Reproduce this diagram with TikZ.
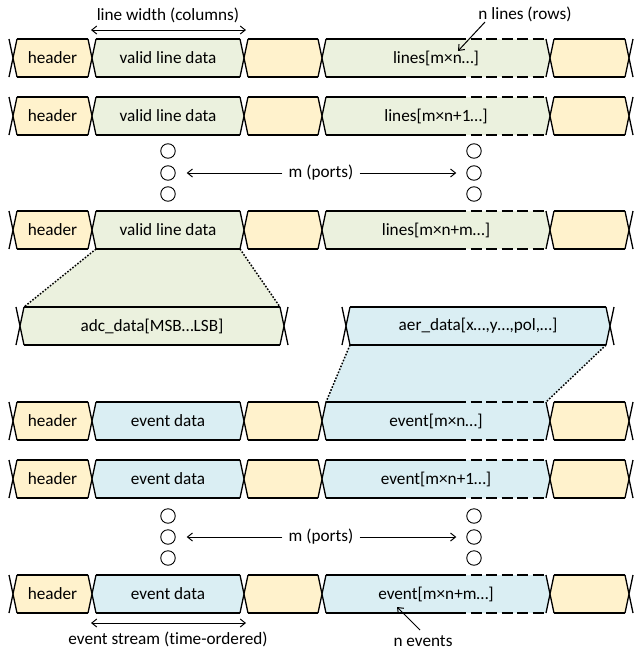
\documentclass[tikz,border=0pt]{standalone}
\usepackage{fontspec}
\setmainfont[Ligatures=NoCommon]{Carlito}
\usetikzlibrary{arrows.meta}
\definecolor{hdrfill}{HTML}{FFF2CC}
\definecolor{linefill}{HTML}{EBF1DE}
\definecolor{evtfill}{HTML}{DAEEF3}
\tikzset{
  lbl/.style={font=\fontsize{17.2}{20}\selectfont,inner sep=0pt},
  busline/.style={line width=1.3pt},
  portdot/.style={circle,draw,line width=0.9pt,minimum size=14.5pt,inner sep=0pt},
  dimarrow/.style={line width=1pt,{Straight Barb[length=5pt,width=8pt]}-{Straight Barb[length=5pt,width=8pt]}},
  ptr/.style={line width=1pt,-{Straight Barb[length=5pt,width=8pt]}},
  zoomline/.style={line width=1.5pt,dash pattern=on 1.6pt off 1.6pt}
}
\newcommand{\busseg}[4]{%
  \fill[#4] (#1,#3) -- (#1+4,#3-19) -- (#2-4,#3-19) -- (#2,#3) -- (#2-4,#3+19) -- (#1+4,#3+19) -- cycle;}

\begin{document}
\begin{tikzpicture}[x=1pt,y=-1pt]
\useasboundingbox (0,0) rectangle (637,651);

\fill[linefill] (96,249) -- (240,249) -- (280,307) -- (24,307) -- cycle;
\draw[zoomline] (96,249) -- (24,307) (240,249) -- (280,307);
\fill[evtfill] (350,345) -- (606,345) -- (546,402) -- (326,402) -- cycle;
\draw[zoomline] (350,345) -- (326,402) (606,345) -- (546,402);

\foreach \y/\c/\mtxt/\stxt/\id in {58/linefill/valid line data/{lines[m×n…]}/a1,
    116/linefill/valid line data/{lines[m×n+1…]}/a2,
    230/linefill/valid line data/{lines[m×n+m…]}/a3,
    421/evtfill/event data/{event[m×n…]}/b1,
    479/evtfill/event data/{event[m×n+1…]}/b2,
    594/evtfill/event data/{event[m×n+m…]}/b3}{
  \busseg{13}{92}{\y}{hdrfill}
  \busseg{92}{244}{\y}{\c}
  \busseg{244}{322}{\y}{hdrfill}
  \busseg{322}{550}{\y}{\c}
  \busseg{550}{629}{\y}{hdrfill}
  \draw[busline] (17,\y-19) -- (88,\y-19) (17,\y+19) -- (88,\y+19)
    (96,\y-19) -- (240,\y-19) (96,\y+19) -- (240,\y+19)
    (248,\y-19) -- (318,\y-19) (248,\y+19) -- (318,\y+19)
    (326,\y-19) -- (466,\y-19) (326,\y+19) -- (466,\y+19)
    (554,\y-19) -- (625,\y-19) (554,\y+19) -- (625,\y+19);
  \draw[busline,dash pattern=on 11pt off 4.5pt] (470.5,\y-19) -- (546,\y-19) (470.5,\y+19) -- (546,\y+19);
  \foreach \b in {13,92,244,322,550,629}
    \draw[busline] (\b-4,\y-19) -- (\b+4,\y+19) (\b+4,\y-19) -- (\b-4,\y+19);
  \node[lbl] (hdr-\id) at (52.5,\y) {header};
  \node[lbl] (data-\id) at (168,\y) {\mtxt};
  \node[lbl] (seq-\id) at (436,\y) {\stxt};
}

\busseg{20}{284}{326}{linefill}
\busseg{346}{610}{326}{evtfill}
\draw[busline] (24,307) -- (280,307) (24,345) -- (280,345)
  (350,307) -- (606,307) (350,345) -- (606,345);
\foreach \b in {20,284,346,610}
  \draw[busline] (\b-4,307) -- (\b+4,345) (\b+4,307) -- (\b-4,345);
\node[lbl] (adc) at (152,326) {adc\_data[MSB…LSB]};
\node[lbl] (aer) at (478,326) {aer\_data[x…,y…,pol,…]};

\foreach \y/\id in {151/t1,173/t2,194/t3,516/u1,537/u2,558/u3}{
  \node[portdot] (cl-\id) at (168,\y) {};
  \node[portdot] (cr-\id) at (474,\y) {};
}
\node[lbl] (mp-t) at (321,173) {m (ports)};
\node[lbl] (mp-u) at (321,537) {m (ports)};
\draw[ptr,shorten <=6pt,shorten >=11pt] (mp-t) -- (cl-t2);
\draw[ptr,shorten <=6pt,shorten >=10pt] (mp-t) -- (cr-t2);
\draw[ptr,shorten <=6pt,shorten >=11pt] (mp-u) -- (cl-u2);
\draw[ptr,shorten <=6pt,shorten >=10pt] (mp-u) -- (cr-u2);

\coordinate (lw-l) at (91,30);
\coordinate (lw-r) at (246,30);
\draw[dimarrow] (lw-l) -- (lw-r);
\node[lbl] (lw) at (168,15) {line width (columns)};

\node[lbl] (nl) at (525,14) {n lines (rows)};
\coordinate (nl-tail) at (485,22);
\coordinate (nl-tip) at (458,51);
\draw[ptr] (nl-tail) -- (nl-tip);

\coordinate (es-l) at (91,623);
\coordinate (es-r) at (246,623);
\draw[dimarrow] (es-l) -- (es-r);
\node[lbl] (es) at (168,639) {event stream (time-ordered)};

\node[lbl] (ne) at (423,641) {n events};
\coordinate (ne-tail) at (420,630);
\coordinate (ne-tip) at (397,607);
\draw[ptr] (ne-tail) -- (ne-tip);
\end{tikzpicture}
\end{document}
